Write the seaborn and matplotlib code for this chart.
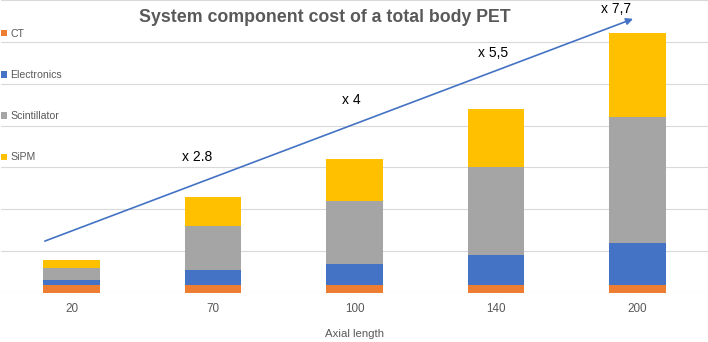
import pandas as pd
import seaborn as sns
import matplotlib.pyplot as plt
from matplotlib.patches import Patch

# cost per component (gridline units)
lengths = ['20', '70', '100', '140', '200']
ct = [0.2, 0.2, 0.2, 0.2, 0.2]
electronics = [0.1, 0.35, 0.5, 0.7, 1.0]
scintillator = [0.3, 1.05, 1.5, 2.1, 3.0]
sipm = [0.2, 0.7, 1.0, 1.4, 2.0]

factors = ['x 2.8', 'x 4', 'x 5,5', 'x 7,7']

components = ['CT', 'Electronics', 'Scintillator', 'SiPM']
colors = ['#ED7D31', '#4472C4', '#A5A5A5', '#FFC000']

sns.set_theme(style='white')
plt.rcParams['font.family'] = ['Liberation Sans', 'DejaVu Sans']

dtf = pd.DataFrame({'Axial length': lengths, 'CT': ct, 'Electronics': electronics,
                    'Scintillator': scintillator, 'SiPM': sipm})
# cumulative tops, so each layer can be drawn behind the one below it
cum = dtf[components].cumsum(axis=1)
cum['Axial length'] = lengths

fig = plt.figure(figsize=(7.08, 3.42), dpi=100)
ax = fig.add_axes([1 / 708, 49 / 342, 707 / 708, 293 / 342])

for comp, col in reversed(list(zip(components, colors))):
    sns.barplot(data=cum, x='Axial length', y=comp, order=lengths, color=col,
                width=0.4, saturation=1, linewidth=0, ax=ax, zorder=2)

ax.set_ylim(0, 7)
ax.set_xlim(-0.5, 4.5)
ax.set_yticks(range(0, 8))
ax.yaxis.grid(True, color='#D9D9D9', linewidth=0.8, zorder=0)
ax.set_axisbelow(True)
ax.tick_params(axis='y', left=False, labelleft=False)
ax.tick_params(axis='x', length=0, pad=7.5, labelsize=8.4, labelcolor='#595959')
for s in ax.spines.values():
    s.set_visible(False)
ax.set_ylabel('')
ax.set_xlabel('Axial length', fontsize=8.2, color='#595959', labelpad=9.5)

# growth arrow and multipliers
ax.annotate('', xy=(3.97, 6.55), xytext=(-0.19, 1.24),
            arrowprops=dict(arrowstyle='-|>', color='#4472C4', lw=1.2,
                            mutation_scale=10, shrinkA=0, shrinkB=0),
            annotation_clip=False)
text_pos = [(0.886, 3.24), (1.98, 4.62), (2.98, 5.74), (3.85, 6.79)]
for lab, (tx, ty) in zip(factors, text_pos):
    ax.text(tx, ty, lab, ha='center', va='center', fontsize=10, color='black')

handles = [Patch(facecolor=c, edgecolor='none', label=n) for n, c in zip(components, colors)]
ax.legend(handles=handles, loc='upper left', bbox_to_anchor=(0.0, 1 - 29 / 293),
          frameon=False, fontsize=7.6, labelcolor='#595959', labelspacing=2.95,
          handlelength=0.55, handleheight=0.55, handletextpad=0.35,
          borderpad=0, borderaxespad=0)

fig.text(325 / 708, 1 - 18 / 342, 'System component cost of a total body PET',
         ha='center', va='center', fontsize=12.8, fontweight='bold', color='#595959')

fig.savefig('out.png', dpi=100)
